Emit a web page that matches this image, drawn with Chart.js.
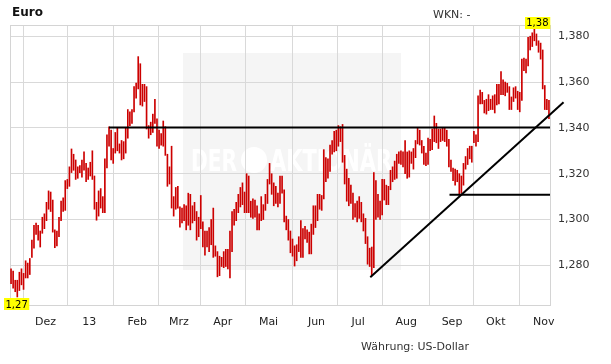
<!DOCTYPE html>
<html lang="de">
<head>
<meta charset="UTF-8">
<title>Euro</title>
<script src="https://cdn.jsdelivr.net/npm/chart.js"></script>
<style>
  body { margin: 0; background: #fff; font-family: 'DejaVu Sans', Verdana, sans-serif; }
  #wrap { position: relative; width: 611px; height: 364px; }
  #wrap canvas { position: absolute; left: 0; top: 0; }
  .txt { position: absolute; white-space: nowrap; line-height: 13px; }
  #title { left: 12px; top: 6px; font-size: 12px; font-weight: bold; color: #111; }
  #wkn { left: 433px; top: 8px; font-size: 11px; color: #333; }
  #cur { left: 361px; top: 340px; font-size: 11px; color: #333; }
</style>
</head>
<body>
<div id="wrap">
  <canvas id="chart" width="611" height="364"></canvas>
  <div class="txt" id="title">Euro</div>
  <div class="txt" id="wkn">WKN: -</div>
  <div class="txt" id="cur">Währung: US-Dollar</div>
</div>
<script>
// trading-day index 0 = 8 Nov 2012, last = 5 Nov 2013
const monthLabels = ['Dez', '13', 'Feb', 'Mrz', 'Apr', 'Mai', 'Jun', 'Jul', 'Aug', 'Sep', 'Okt', 'Nov'];
const monthStarts = [17, 38, 61, 81, 102, 124, 147, 167, 190, 212, 233, 256];
const yTicks = [1.28, 1.30, 1.32, 1.34, 1.36, 1.38];

const highs = [
  1.2785, 1.2775, 1.2735, 1.2735, 1.2770, 1.2785, 1.2765, 1.2820, 1.2810, 1.2830,
  1.2910, 1.2975, 1.2985, 1.2975, 1.2950, 1.3010, 1.3025, 1.3075, 1.3125, 1.3120,
  1.3085, 1.2955, 1.2950, 1.3010, 1.3080, 1.3095, 1.3170, 1.3175, 1.3230, 1.3308,
  1.3285, 1.3260, 1.3230, 1.3235, 1.3260, 1.3295, 1.3245, 1.3225, 1.3250, 1.3300,
  1.3190, 1.3075, 1.3125, 1.3135, 1.3100, 1.3265, 1.3370, 1.3405, 1.3390, 1.3310,
  1.3380, 1.3400, 1.3330, 1.3345, 1.3340, 1.3400, 1.3480, 1.3470, 1.3480, 1.3580,
  1.3595, 1.3711, 1.3680, 1.3590, 1.3590, 1.3580, 1.3410, 1.3425, 1.3460, 1.3525,
  1.3440, 1.3390, 1.3375, 1.3430, 1.3405, 1.3285, 1.3230, 1.3320, 1.3100, 1.3140,
  1.3145, 1.3055, 1.3050, 1.3065, 1.3060, 1.3115, 1.3110, 1.3060, 1.3075, 1.3035,
  1.3010, 1.3105, 1.2990, 1.2950, 1.2950, 1.2965, 1.3000, 1.3050, 1.2885, 1.2860,
  1.2840, 1.2835, 1.2860, 1.2870, 1.2870, 1.2950, 1.3035, 1.3045, 1.3075, 1.3110,
  1.3140, 1.3160, 1.3120, 1.3200, 1.3190, 1.3080, 1.3090, 1.3085, 1.3060, 1.3025,
  1.3100, 1.3065, 1.3110, 1.3175, 1.3245, 1.3200, 1.3160, 1.3145, 1.3115, 1.3190,
  1.3190, 1.3130, 1.3015, 1.3000, 1.2950, 1.2915, 1.2885, 1.2890, 1.2925, 1.2995,
  1.2960, 1.2970, 1.2955, 1.2945, 1.2980, 1.3060, 1.3060, 1.3110, 1.3110, 1.3105,
  1.3305, 1.3270, 1.3265, 1.3325, 1.3345, 1.3385, 1.3390, 1.3410, 1.3405, 1.3415,
  1.3280, 1.3220, 1.3180, 1.3150, 1.3115, 1.3070, 1.3080, 1.3100, 1.3075, 1.3025,
  1.3005, 1.2925, 1.2875, 1.2880, 1.3205, 1.3170, 1.3110, 1.3080, 1.3175, 1.3175,
  1.3150, 1.3145, 1.3215, 1.3230, 1.3255, 1.3285, 1.3295, 1.3300, 1.3295, 1.3345,
  1.3295, 1.3300, 1.3295, 1.3310, 1.3345, 1.3400, 1.3390, 1.3345, 1.3320, 1.3290,
  1.3355, 1.3350, 1.3395, 1.3452, 1.3420, 1.3395, 1.3395, 1.3400, 1.3400, 1.3390,
  1.3350, 1.3260, 1.3225, 1.3220, 1.3215, 1.3200, 1.3190, 1.3245, 1.3275, 1.3310,
  1.3320, 1.3320, 1.3385, 1.3370, 1.3540, 1.3565, 1.3555, 1.3520, 1.3525, 1.3545,
  1.3525, 1.3540, 1.3545, 1.3590, 1.3590, 1.3646, 1.3610, 1.3600, 1.3595, 1.3580,
  1.3535, 1.3575, 1.3580, 1.3560, 1.3555, 1.3700, 1.3705, 1.3700, 1.3795, 1.3800,
  1.3815, 1.3832, 1.3810, 1.3780, 1.3770, 1.3740, 1.3585, 1.3525, 1.3520
];
const lows = [
  1.2720, 1.2700, 1.2685, 1.2662, 1.2690, 1.2715, 1.2695, 1.2745, 1.2745, 1.2760,
  1.2835, 1.2875, 1.2935, 1.2910, 1.2880, 1.2940, 1.2960, 1.2995, 1.3045, 1.3035,
  1.2945, 1.2877, 1.2885, 1.2925, 1.2995, 1.3035, 1.3040, 1.3135, 1.3145, 1.3205,
  1.3215, 1.3175, 1.3180, 1.3205, 1.3185, 1.3215, 1.3165, 1.3175, 1.3190, 1.3175,
  1.3045, 1.2997, 1.3015, 1.3050, 1.3030, 1.3030, 1.3225, 1.3320, 1.3260, 1.3245,
  1.3290, 1.3300, 1.3290, 1.3260, 1.3265, 1.3290, 1.3355, 1.3410, 1.3420, 1.3470,
  1.3530, 1.3570, 1.3500, 1.3495, 1.3515, 1.3395, 1.3355, 1.3370, 1.3380, 1.3420,
  1.3320, 1.3310, 1.3325, 1.3320, 1.3280, 1.3145, 1.3155, 1.3050, 1.3015, 1.3045,
  1.3050, 1.2967, 1.2985, 1.2995, 1.2955, 1.2975, 1.2955, 1.2985, 1.2995, 1.2910,
  1.2925, 1.2960, 1.2880, 1.2845, 1.2880, 1.2860, 1.2890, 1.2835, 1.2840, 1.2750,
  1.2755, 1.2795, 1.2790, 1.2795, 1.2785, 1.2745, 1.2860, 1.2975, 1.2995, 1.3030,
  1.3055, 1.3065, 1.3030, 1.3030, 1.3030, 1.3010, 1.3005, 1.3010, 1.2955, 1.2955,
  1.2995, 1.3000, 1.3040, 1.3070, 1.3155, 1.3110, 1.3060, 1.3070, 1.3055, 1.3070,
  1.3115, 1.2990, 1.2955, 1.2910, 1.2855, 1.2840, 1.2797, 1.2820, 1.2860, 1.2835,
  1.2835, 1.2915, 1.2900, 1.2850, 1.2850, 1.2935, 1.2965, 1.2995, 1.3045, 1.3040,
  1.3090, 1.3165, 1.3180, 1.3210, 1.3285, 1.3295, 1.3300, 1.3320, 1.3340, 1.3250,
  1.3155, 1.3080, 1.3060, 1.3070, 1.3000, 1.3010, 1.2990, 1.3005, 1.2990, 1.2950,
  1.2895, 1.2805, 1.2795, 1.2755, 1.2790, 1.3000, 1.3010, 1.3000, 1.3020, 1.3085,
  1.3065, 1.3065, 1.3130, 1.3165, 1.3175, 1.3180, 1.3245, 1.3240, 1.3230, 1.3200,
  1.3180, 1.3185, 1.3245, 1.3220, 1.3270, 1.3330, 1.3325, 1.3290, 1.3240, 1.3235,
  1.3240, 1.3300, 1.3305, 1.3340, 1.3335, 1.3310, 1.3340, 1.3345, 1.3340, 1.3320,
  1.3230, 1.3210, 1.3170, 1.3150, 1.3165, 1.3106, 1.3115, 1.3150, 1.3220, 1.3240,
  1.3265, 1.3250, 1.3335, 1.3320, 1.3340, 1.3505, 1.3505, 1.3465, 1.3460, 1.3475,
  1.3480, 1.3480, 1.3465, 1.3500, 1.3505, 1.3545, 1.3545, 1.3540, 1.3555, 1.3480,
  1.3480, 1.3515, 1.3530, 1.3480, 1.3470, 1.3520, 1.3650, 1.3640, 1.3670, 1.3740,
  1.3755, 1.3780, 1.3760, 1.3730, 1.3700, 1.3570, 1.3480, 1.3480, 1.3440
];

// drawn trend lines (x = trading-day index)
const resistanceLine = [{ x: 47.5, y: 1.3402 }, { x: 259, y: 1.3402 }];
const supportLine = [{ x: 210.8, y: 1.3108 }, { x: 259, y: 1.3108 }];
const trendLine = [{ x: 172.8, y: 1.2748 }, { x: 265.5, y: 1.3512 }];

const fmt = (v, d) => v.toFixed(d).replace('.', ',');

const bars = highs.map((h, i) => ({ x: i + 0.5, y: [lows[i], h] }));

const deco = {
  id: 'deco',
  beforeDraw(chart) {
    // watermark panel
    const c = chart.ctx;
    c.save();
    c.fillStyle = '#f5f5f5';
    c.fillRect(183, 53, 218, 217);
    c.fillStyle = '#ffffff';
    c.font = "bold 30px 'DejaVu Sans', sans-serif";
    c.textBaseline = 'alphabetic';
    c.fillText('DER', 191, 171, 46);
    c.beginPath();
    c.arc(254, 160, 13, 0, Math.PI * 2);
    c.fill();
    c.fillText('AKTIONÄR', 270, 171, 122);
    c.restore();
  },
  beforeDatasetsDraw(chart) {
    const { ctx: c, chartArea: a } = chart;
    c.save();
    c.strokeStyle = '#d4d4d4';
    c.lineWidth = 1;
    c.strokeRect(Math.round(a.left) + 0.5, Math.round(a.top) + 0.5,
      Math.round(a.right - a.left), Math.round(a.bottom - a.top));
    c.restore();
  },
  afterDatasetsDraw(chart) {
    const { ctx: c, scales } = chart;
    let iMin = 0, iMax = 0;
    lows.forEach((v, i) => { if (v < lows[iMin]) iMin = i; });
    highs.forEach((v, i) => { if (v > highs[iMax]) iMax = i; });
    c.save();
    c.font = "10px 'DejaVu Sans', sans-serif";
    c.textAlign = 'center';
    c.textBaseline = 'middle';
    const tag = (txt, cx, top) => {
      const w = c.measureText(txt).width + 3, h = 12;
      cx = Math.max(4 + w / 2, cx);
      c.fillStyle = '#ffff00';
      c.fillRect(Math.round(cx - w / 2), Math.round(top), w, h);
      c.fillStyle = '#000';
      c.fillText(txt, cx, top + h / 2 + 0.5);
    };
    tag(fmt(lows[iMin], 2), scales.x.getPixelForValue(iMin + 0.5) - 1,
      scales.y.getPixelForValue(lows[iMin]) + 1.5);
    tag(fmt(highs[iMax], 2), scales.x.getPixelForValue(iMax + 0.5) + 3,
      scales.y.getPixelForValue(highs[iMax]) - 11.5);
    c.restore();
  }
};

Chart.defaults.font.family = "'DejaVu Sans', Verdana, sans-serif";
Chart.defaults.font.size = 11;
Chart.defaults.color = '#333';

const ctx = document.getElementById('chart').getContext('2d');
new Chart(ctx, {
  type: 'bar',
  data: {
    datasets: [
      { type: 'line', data: resistanceLine, borderColor: '#000', borderWidth: 2, pointRadius: 0 },
      { type: 'line', data: supportLine, borderColor: '#000', borderWidth: 2, pointRadius: 0 },
      { type: 'line', data: trendLine, borderColor: '#000', borderWidth: 2, pointRadius: 0, clip: false },
      { type: 'bar', data: bars, backgroundColor: '#cc0000', barThickness: 1 }
    ]
  },
  options: {
    responsive: false,
    animation: false,
    layout: { padding: { left: 10, top: 25, right: 0, bottom: 0 } },
    plugins: { legend: { display: false }, tooltip: { enabled: false } },
    scales: {
      x: {
        type: 'linear',
        min: 0,
        max: 259,
        offset: false,
        border: { display: false },
        grid: { color: '#d9d9d9', drawTicks: false },
        afterBuildTicks: (s) => { s.ticks = monthStarts.map(v => ({ value: v })); },
        afterFit: (s) => { s.height = 59; },
        ticks: {
          padding: 11,
          autoSkip: false,
          maxRotation: 0,
          color: '#222',
          callback: (v, i) => monthLabels[i]
        }
      },
      y: {
        position: 'right',
        min: 1.2627,
        max: 1.3849,
        border: { display: false },
        grid: { color: '#d9d9d9', drawTicks: false },
        afterBuildTicks: (s) => { s.ticks = yTicks.map(v => ({ value: v })); },
        afterFit: (s) => { s.width = 61; },
        ticks: {
          padding: 8,
          callback: (v) => fmt(v, 3)
        }
      }
    }
  },
  plugins: [deco]
});
</script>
</body>
</html>
